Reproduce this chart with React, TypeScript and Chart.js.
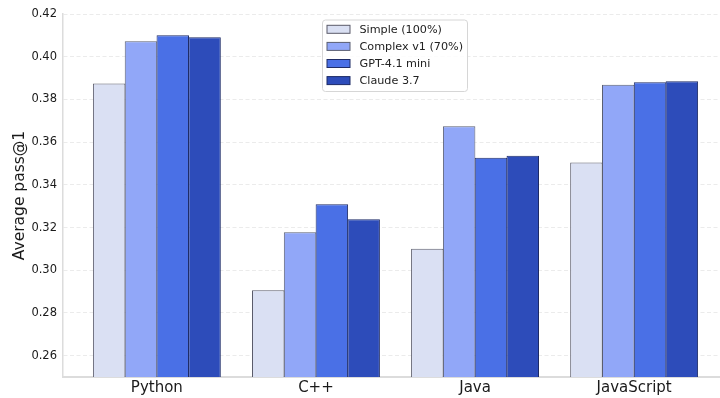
import { useEffect, useRef } from "react";
import { Chart, registerables } from "chart.js";

Chart.register(...registerables);

const categories = ["Python", "C++", "Java", "JavaScript"];
const seriesNames = ["Simple (100%)", "Complex v1 (70%)", "GPT-4.1 mini", "Claude 3.7"];
const simpleValues = [0.3875, 0.2906, 0.3101, 0.3504];
const complexV1Values = [0.4072, 0.3178, 0.3674, 0.3869];
const gpt41MiniValues = [0.41, 0.3309, 0.3527, 0.388];
const claude37Values = [0.4091, 0.3239, 0.3536, 0.3885];
const yTickValues = [0.26, 0.28, 0.3, 0.32, 0.34, 0.36, 0.38, 0.4, 0.42];
const fillColors = ["#dae0f3", "#91a7f8", "#4a70e6", "#2d4cba"];
const edgeColors = ["#5a5b6a", "#5a5f72", "#1f2c66", "#1c2a66"];

const FONT = "'DejaVu Sans', sans-serif";

const legendPlugin = {
  id: "boxLegend",
  afterDraw(chart: any) {
    const ctx = chart.ctx;
    const x0 = 322.5;
    const y0 = 20;
    const w = 145;
    const h = 71.5;
    ctx.save();
    ctx.beginPath();
    const r = 3;
    ctx.moveTo(x0 + r, y0);
    ctx.lineTo(x0 + w - r, y0);
    ctx.arcTo(x0 + w, y0, x0 + w, y0 + r, r);
    ctx.lineTo(x0 + w, y0 + h - r);
    ctx.arcTo(x0 + w, y0 + h, x0 + w - r, y0 + h, r);
    ctx.lineTo(x0 + r, y0 + h);
    ctx.arcTo(x0, y0 + h, x0, y0 + h - r, r);
    ctx.lineTo(x0, y0 + r);
    ctx.arcTo(x0, y0, x0 + r, y0, r);
    ctx.closePath();
    ctx.fillStyle = "rgba(255,255,255,0.85)";
    ctx.fill();
    ctx.strokeStyle = "#d6d6d6";
    ctx.lineWidth = 1;
    ctx.stroke();
    ctx.font = `11.2px ${FONT}`;
    ctx.textBaseline = "middle";
    ctx.textAlign = "left";
    seriesNames.forEach((name, i) => {
      const cy = 29.3 + i * 17.1;
      ctx.fillStyle = fillColors[i];
      ctx.fillRect(327, cy - 4, 23, 8);
      ctx.strokeStyle = edgeColors[i];
      ctx.lineWidth = 1;
      ctx.strokeRect(327, cy - 4, 23, 8);
      ctx.fillStyle = "#222222";
      ctx.fillText(name, 359.5, cy + 0.5);
    });
    ctx.restore();
  },
};

export default function App() {
  const ref = useRef<HTMLCanvasElement | null>(null);

  useEffect(() => {
    if (!ref.current) return;
    const seriesValues = [simpleValues, complexV1Values, gpt41MiniValues, claude37Values];
    const chart = new Chart(ref.current, {
      type: "bar",
      data: {
        datasets: seriesNames.map((name, i) => ({
          label: name,
          data: categories.map((_, ci) => ({ x: ci, y: seriesValues[i][ci] })),
          backgroundColor: fillColors[i],
          borderColor: edgeColors[i],
          borderWidth: 1,
          borderSkipped: "bottom",
          categoryPercentage: 0.8,
          barPercentage: 1.02,
        })),
      },
      options: {
        animation: false,
        responsive: false,
        maintainAspectRatio: false,
        layout: { padding: { left: 0, right: 12, top: 14, bottom: 0 } },
        plugins: {
          legend: { display: false },
          tooltip: { enabled: false },
        },
        scales: {
          x: {
            type: "linear",
            min: -0.59,
            max: 3.59,
            offset: false,
            afterBuildTicks: (axis: any) => {
              axis.ticks = categories.map((_, i) => ({ value: i }));
            },
            afterFit: (axis: any) => {
              axis.height = 21;
            },
            grid: { display: false, drawTicks: false },
            border: { display: true, color: "#dcdcdc", width: 2 },
            ticks: {
              autoSkip: false,
              maxRotation: 0,
              padding: 2,
              color: "#1a1a1a",
              font: { family: FONT, size: 15 },
              callback: (v: any) => categories[Math.round(Number(v))] ?? "",
            },
          },
          y: {
            type: "linear",
            min: 0.25,
            max: 0.42,
            afterBuildTicks: (axis: any) => {
              axis.ticks = yTickValues.map((v) => ({ value: v }));
            },
            afterFit: (axis: any) => {
              axis.width = 63;
            },
            grid: {
              display: true,
              drawTicks: false,
              color: "#e6e6e6",
              lineWidth: 0.8,
            },
            border: { display: true, color: "#dcdcdc", width: 1.5, dash: [4, 2.5] },
            ticks: {
              padding: 6,
              color: "#1a1a1a",
              font: { family: FONT, size: 11.5 },
              callback: (v: any) => Number(v).toFixed(2),
            },
            title: {
              display: true,
              text: "Average pass@1",
              color: "#1a1a1a",
              font: { family: FONT, size: 15.5 },
              padding: { top: 11, bottom: 0 },
            },
          },
        },
      },
      plugins: [legendPlugin],
    });
    return () => chart.destroy();
  }, []);

  return (
    <div
      style={{
        position: "fixed",
        left: 0,
        top: 0,
        width: 720,
        height: 398,
        overflow: "hidden",
        background: "#ffffff",
      }}
    >
      <canvas ref={ref} width={740} height={398} style={{ width: 740, height: 398, display: "block" }} />
    </div>
  );
}
